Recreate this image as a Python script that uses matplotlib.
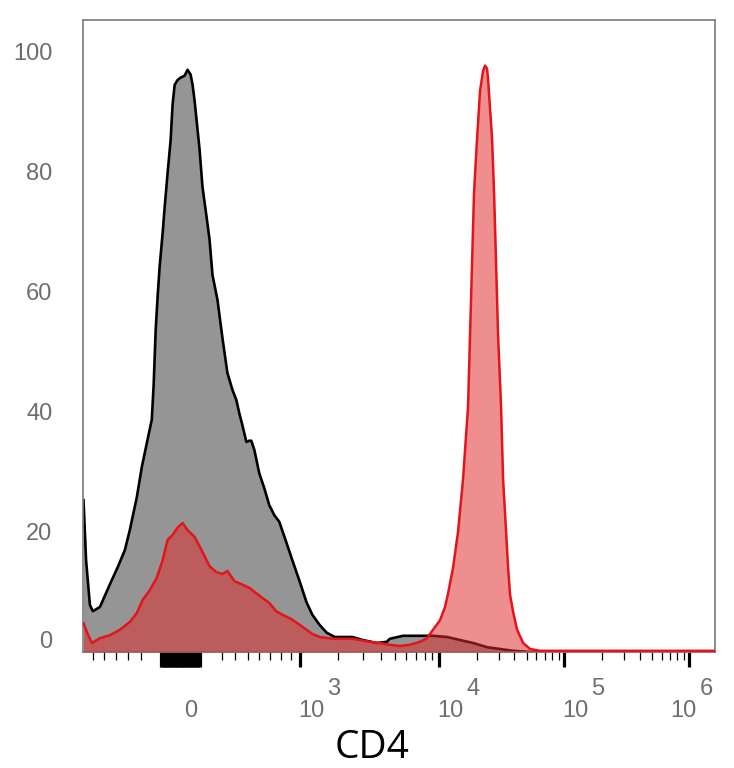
import numpy as np
import matplotlib
matplotlib.use('Agg')
import matplotlib.pyplot as plt
from matplotlib import transforms

plt.rcParams['font.family'] = ['Liberation Sans', 'DejaVu Sans']

# CD4 histograms: x = fluorescence intensity, y = % of max
gray_x = [-790, -765, -728, -700, -636, -548, -481, -424, -385, -330, -292, -254,
          -217, -203, -188, -173, -159, -137, -122, -101, -79, -65, -50, -29, -7,
          21, 43, 65, 79, 93, 130, 151, 181, 203, 225, 262, 300, 338, 377, 408,
          432, 457, 490, 514, 531, 557, 600, 645, 690, 738, 786, 856, 919, 1000,
          1142, 1277, 1459, 1655, 1897, 2546, 3007, 3768, 4417, 4632, 5689, 7430,
          9104, 11590, 14720, 18710, 24210, 30760, 39080, 53460, 1600000]
gray_y = [25.3, 15.3, 7.8, 6.8, 7.5, 11.3, 14.2, 17.0, 20.3, 25.8, 30.8, 34.8,
          38.7, 44.5, 53.7, 59.5, 64.2, 69.8, 74.2, 79.8, 85.3, 91.2, 94.5, 95.3, 95.7,
          96.0, 97.0, 96.2, 94.5, 92.0, 83.7, 77.5, 72.5, 68.7, 62.8, 58.7, 52.3, 46.5,
          43.7, 42.0, 39.8, 37.8, 35.0, 35.2, 35.2, 33.7, 29.8, 27.3, 24.5, 22.8, 21.7,
          18.3, 15.3, 11.7, 8.3, 6.2, 4.5, 3.2, 2.5, 2.5, 2.0, 1.5, 1.7, 2.2, 2.7, 2.7,
          2.7, 2.5, 2.0, 1.5, 0.8, 0.5, 0.2, 0.0, 0.0]

red_x = [-790, -755, -709, -636, -548, -465, -385, -330, -285, -232, -181, -137,
         -101, -65, -29, 7, 43, 93, 144, 203, 254, 300, 338, 393, 449, 514, 574,
         628, 690, 755, 817, 908, 1055, 1277, 1459, 1834, 2546, 3362, 3952, 4632,
         5428, 6347, 7430, 8290, 9104, 10186, 11170, 11800, 12940, 14190, 15560,
         17060, 17700, 18370, 19050, 20140, 21280, 22490, 23330, 24210, 24660, 26550,
         27540, 28580, 29650, 31330, 32510, 34360, 35650, 36980, 39080, 42070, 46990,
         53460, 64270, 1600000]
red_y = [4.8, 3.2, 1.5, 2.3, 2.8, 3.7, 5.0, 6.5, 8.7, 10.3, 12.3, 15.3,
         18.7, 19.5, 20.7, 21.5, 20.3, 19.2, 17.0, 14.3, 13.3, 13.0, 13.5, 11.8, 11.3,
         10.7, 9.8, 9.0, 8.2, 6.8, 6.2, 5.5, 4.2, 3.0, 2.5, 2.2, 2.2, 1.7, 1.5, 1.2,
         1.0, 1.2, 1.7, 2.3, 3.7, 5.3, 7.5, 9.7, 14.0, 20.0, 28.8,
         40.8, 52.7, 64.7, 76.5, 85.5, 93.5, 96.8, 97.7, 97.2, 95.5, 85.5,
         76.5, 64.7, 52.7, 40.8, 28.8, 20.0, 14.0, 9.5, 6.7, 3.7, 1.5,
         0.5, 0.2, 0.2]

major_ticks = [1e3, 1e4, 1e5, 1e6]
major_exps = ['3', '4', '5', '6']
y_ticks = [0, 20, 40, 60, 80, 100]
y_labels = ['0', '20', '40', '60', '80', '100']

# biexponential-like axis: piecewise in arcsinh space
W = 850.0
anchor_vals = np.array([-1e7, -1e6, -1e5, -1e4, -1e3, 0, 1e3, 1e4, 1e5, 1e6, 1e7])
anchor_pos = np.array([-632, -507, -382, -257, -118, 0, 118, 257, 382, 507, 632.0])
anchor_g = np.arcsinh(anchor_vals / W)


def fwd(x):
    return np.interp(np.arcsinh(np.asarray(x, dtype=float) / W), anchor_g, anchor_pos)


def inv(p):
    return W * np.sinh(np.interp(np.asarray(p, dtype=float), anchor_pos, anchor_g))


# dense block of ticks around zero drawn with the heavy tick style
block_ticks = list(range(-150, 131, 10))
minor_ticks = ([-700, -600, -500, -400, -300]
               + list(range(300, 1000, 100))
               + [m * 10 ** k for k in (3, 4, 5) for m in range(2, 10)])

fig = plt.figure(figsize=(7.34, 7.68), dpi=100)
ax = fig.add_axes([83 / 734, 1 - 652 / 768, 632 / 734, 632 / 768])
ax.set_xscale('function', functions=(fwd, inv))

ax.fill_between(gray_x, gray_y, 0, color='#959595', lw=0, zorder=1)
ax.plot(gray_x, gray_y, color='black', lw=1.9, zorder=2)
ax.fill_between(red_x, red_y, 0, color='#e02a2a', alpha=0.53, lw=0, zorder=3)
ax.plot(red_x, red_y, color='#e3151b', lw=1.8, zorder=4)

ax.set_xlim(-795, 1.6e6)
ax.set_ylim(0, 105.3)

for s in ax.spines.values():
    s.set_color('#7a7a7a')
    s.set_linewidth(1.2)

ax.set_xticks(major_ticks + block_ticks)
ax.set_xticklabels([''] * (len(major_ticks) + len(block_ticks)))
ax.set_xticks(minor_ticks, minor=True)
ax.tick_params(axis='x', which='major', direction='out', length=10.5, width=2.3,
               color='black')
ax.tick_params(axis='x', which='minor', direction='out', length=6, width=0.9,
               color='black')

ax.set_yticks(y_ticks)
ax.set_yticklabels(y_labels)
ax.tick_params(axis='y', length=0, pad=22, labelsize=17, labelcolor='#6e6e6e')
zero_lab = ax.get_yticklabels()[0]
zero_lab.set_transform(zero_lab.get_transform()
                       + transforms.ScaledTranslation(0, 12 / 100, fig.dpi_scale_trans))

# x tick labels drawn as 10 + raised exponent
xtrans = ax.get_xaxis_transform()
lab_kw = dict(fontsize=17, color='#6e6e6e', va='baseline')
ax.text(0, 0, '0', ha='center',
        transform=transforms.offset_copy(xtrans, fig=fig, x=9.5, y=-65, units='dots'),
        **lab_kw)
for val, e in zip(major_ticks, major_exps):
    dx = -19 if val == 1e6 else -2
    ax.text(val, 0, '10', ha='left',
            transform=transforms.offset_copy(xtrans, fig=fig, x=dx, y=-65, units='dots'),
            **lab_kw)
    ax.text(val, 0, e, ha='left',
            transform=transforms.offset_copy(xtrans, fig=fig, x=dx + 29, y=-43, units='dots'),
            **lab_kw)

fig.text(372 / 734, 1 - 758 / 768, 'CD4', ha='center', va='baseline', fontsize=28,
         family='Open Sans', color='black')

fig.savefig('out.png', dpi=100)
